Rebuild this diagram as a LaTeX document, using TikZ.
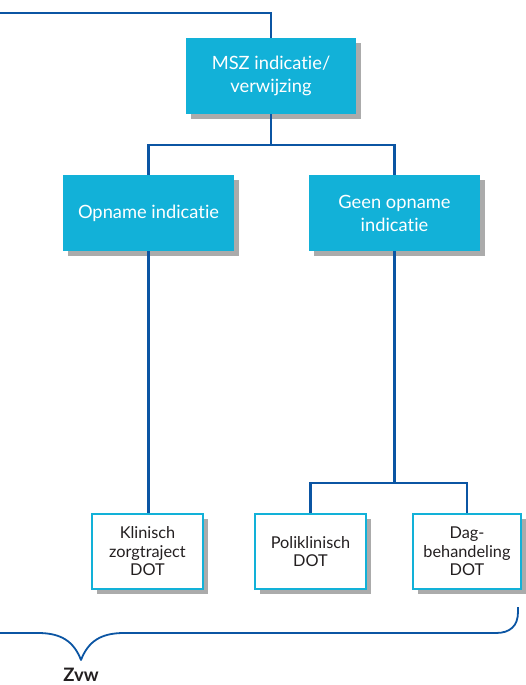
\documentclass[tikz,border=0pt]{standalone}
\usepackage{fontspec}
\setmainfont{Lato}[Ligatures={NoCommon}]
\usetikzlibrary{shadows}
\definecolor{boxcyan}{HTML}{12B1D8}
\definecolor{lineblue}{HTML}{0B55A3}
\definecolor{txtdark}{HTML}{231F20}
\tikzset{
  topbox/.style={rectangle, fill=boxcyan, text=white, inner sep=0pt, align=center,
    font=\fontsize{18.3}{23}\selectfont,
    drop shadow={shadow xshift=5pt, shadow yshift=-5pt, fill=black!55, opacity=0.6}},
  lowbox/.style={rectangle, fill=white, draw=boxcyan, line width=2pt, text=txtdark, inner sep=0pt, align=center,
    font=\fontsize{16.3}{18.5}\selectfont,
    drop shadow={shadow xshift=5pt, shadow yshift=-5pt, fill=black!55, opacity=0.6}},
  conn/.style={draw=lineblue, line width=2.2pt}
}
\begin{document}
\begin{tikzpicture}[x=1pt, y=-1pt]
\useasboundingbox (0,0) rectangle (525,685);
\node[topbox, minimum width=170pt, minimum height=76pt] (msz) at (271,76) {MSZ indicatie/\\verwijzing};
\node[topbox, minimum width=171pt, minimum height=76pt] (opn) at (148.5,213) {Opname indicatie};
\node[topbox, minimum width=171pt, minimum height=76pt] (geen) at (394.5,213) {Geen opname\\indicatie};
\node[lowbox, minimum width=111pt, minimum height=75pt] (klin) at (147.5,551.5) {Klinisch\\zorgtraject\\DOT};
\node[lowbox, minimum width=111pt, minimum height=75pt] (poli) at (310.5,551.5) {Poliklinisch\\DOT};
\node[lowbox, minimum width=108pt, minimum height=75pt] (dag) at (467,551.5) {Dag-\\behandeling\\DOT};
\coordinate (tl) at (0,13);
\coordinate (s1) at (271,145);
\coordinate (s2) at (394.5,483);
\draw[conn] (tl) -| (msz.north);
\draw[conn] (msz.south) -- (s1);
\draw[conn] (s1) -| (opn.north);
\draw[conn] (s1) -| (geen.north);
\draw[conn] (opn.south) -- (opn.south |- klin.north);
\draw[conn] (geen.south) -- (s2);
\draw[conn] (s2) -| (poli.north);
\draw[conn] (s2) -| (dag.north);
% brace
\coordinate (bl) at (0,633);
\coordinate (bt) at (81,660);
\coordinate (br) at (518,607);
\draw[conn, line width=1.8pt, line join=round]
  (bl) -- (38,633) .. controls (62,633) and (74,642) .. (bt)
  .. controls (88,642) and (100,633) .. (124,633) -- (496,633)
  .. controls (510,633) and (518,626) .. (518,612) -- (br);
\node[font=\fontsize{18.5}{20}\selectfont\bfseries, text=txtdark, inner sep=0pt, anchor=base] (zvw) at (81,681) {Zvw};
\end{tikzpicture}
\end{document}
